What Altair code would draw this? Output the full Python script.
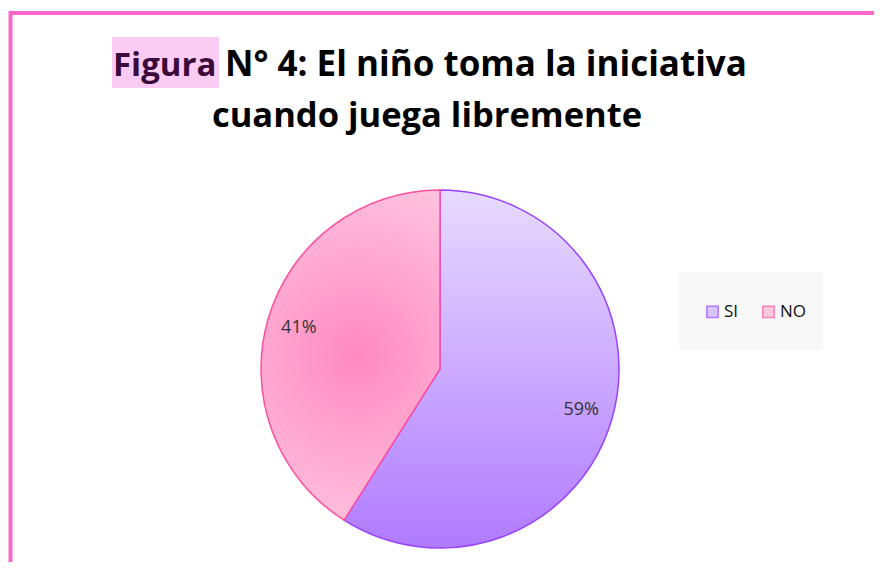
import altair as alt
import pandas as pd

categories = ["SI", "NO"]
values = [59, 41]
order_idx = [0, 1]
label_texts = ["59%", "41%"]

title_highlight = "Figura"
title_line1_rest = "N° 4: El niño toma la iniciativa"
title_line2 = "cuando juega libremente"

df = pd.DataFrame({"cat": categories, "value": values, "idx": order_idx, "lbl": label_texts})
one = pd.DataFrame({"a": [0]})

FONT = "Open Sans"
CX, CY, R = 432, 361, 179

base = alt.Chart(df).transform_stack(
    stack="value", groupby=[], as_=["v0", "v1"], sort=[alt.SortField("idx")]
).transform_calculate(mid="(datum.v0 + datum.v1) / 2")

theta_scale = alt.Scale(domain=[0, 100])

si_grad = alt.LinearGradient(
    gradient="linear",
    stops=[alt.GradientStop(color="#E7DBFF", offset=0), alt.GradientStop(color="#B07BFF", offset=1)],
    x1=0, y1=0, x2=0, y2=1,
)
no_grad = alt.RadialGradient(
    gradient="radial",
    stops=[alt.GradientStop(color="#FF89C1", offset=0), alt.GradientStop(color="#FFD8E8", offset=1)],
    x1=0.52, y1=0.5, r1=0, x2=0.52, y2=0.5, r2=0.75,
)

si_arc = base.transform_filter(alt.datum.cat == "SI").mark_arc(
    radius=R, fill=si_grad, stroke="#9A40FF", strokeWidth=1.5
).encode(
    theta=alt.Theta("v0:Q", scale=theta_scale), theta2="v1:Q",
    x=alt.value(CX), y=alt.value(CY),
)
no_arc = base.transform_filter(alt.datum.cat == "NO").mark_arc(
    radius=R, fill=no_grad, stroke="#FF4FA0", strokeWidth=1.5
).encode(
    theta=alt.Theta("v0:Q", scale=theta_scale), theta2="v1:Q",
    x=alt.value(CX), y=alt.value(CY),
)

labels = base.mark_text(
    radius=147, font=FONT, fontSize=18, color="#333333"
).encode(
    theta=alt.Theta("mid:Q", scale=theta_scale),
    x=alt.value(CX), y=alt.value(CY),
    text="lbl:N",
)

leg_bg = alt.Chart(one).mark_rect(fill="#F8F8F8").encode(
    x=alt.value(671), y=alt.value(264), x2=alt.value(815), y2=alt.value(342)
)

leg_cfg = dict(
    title=None, orient="none", legendX=696, legendY=295, direction="horizontal",
    padding=0, columnPadding=20, labelFont=FONT, labelFontSize=17, labelOffset=3,
    labelColor="#111111", symbolType="square", symbolSize=130, symbolStrokeWidth=1.5,
)
legend_pts = alt.Chart(df).mark_point(shape="square", filled=True, size=130, strokeWidth=1.5).encode(
    x=alt.value(-60), y=alt.value(-60),
    fill=alt.Fill("cat:N", scale=alt.Scale(domain=categories, range=["#CDAEFF", "#FFB6D3"]),
                  legend=alt.Legend(**leg_cfg)),
    stroke=alt.Stroke("cat:N", scale=alt.Scale(domain=categories, range=["#9A40FF", "#FF4FA0"]),
                      legend=alt.Legend(**leg_cfg)),
)

frame = alt.Chart(one).mark_rect(filled=False, stroke="#FF66CC", strokeWidth=4).encode(
    x=alt.value(2.5), y=alt.value(5), x2=alt.value(1200), y2=alt.value(1200)
)
hl = alt.Chart(one).mark_rect(fill="#FACCF4").encode(
    x=alt.value(104), y=alt.value(29), x2=alt.value(211), y2=alt.value(80)
)
t1a = alt.Chart(one).mark_text(
    font=FONT, fontSize=33, fontWeight="bold", align="left", baseline="alphabetic", color="#3B0A3B"
).encode(x=alt.value(105), y=alt.value(68), text=alt.value(title_highlight))
t1b = alt.Chart(one).mark_text(
    font=FONT, fontSize=35, fontWeight="bold", align="left", baseline="alphabetic", color="#000000"
).encode(x=alt.value(217), y=alt.value(68), text=alt.value(title_line1_rest))
t2 = alt.Chart(one).mark_text(
    font=FONT, fontSize=34.5, fontWeight="bold", align="center", baseline="alphabetic", color="#000000"
).encode(x=alt.value(419), y=alt.value(119), text=alt.value(title_line2))

chart = alt.layer(frame, hl, t1a, t1b, t2, si_arc, no_arc, labels, leg_bg, legend_pts).properties(
    width=866, height=554, autosize=alt.AutoSizeParams(type="none"), padding=0, background="white"
).configure_view(stroke=None)

chart.save("out.html", embed_options={"renderer": "svg", "actions": False})
